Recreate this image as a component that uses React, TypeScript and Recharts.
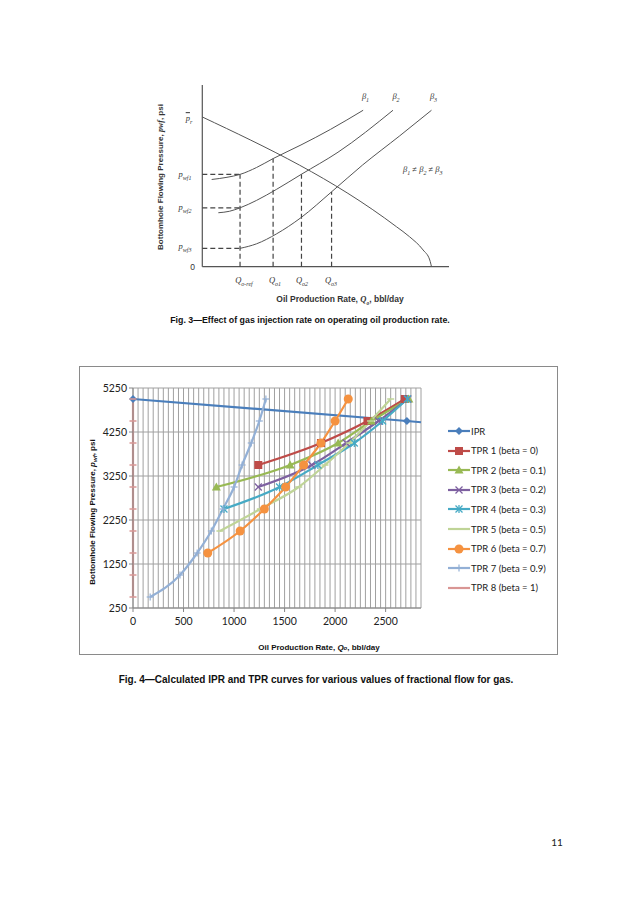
import { LineChart, Line, XAxis, YAxis, CartesianGrid, ReferenceLine } from 'recharts';

// ---- Fig. 4 data ----
const X_TICKS = [0, 500, 1000, 1500, 2000, 2500];
const Y_TICKS = [250, 1250, 2250, 3250, 4250, 5250];

const IPR_Q = [0, 2710, 2850];
const IPR_P = [5000, 4500, 4472];

const TPR1_Q = [1240, 1860, 2320, 2690];
const TPR1_P = [3500, 4000, 4500, 5000];

const TPR2_Q = [825, 1555, 2030, 2360, 2730];
const TPR2_P = [3000, 3500, 4000, 4500, 5000];

const TPR3_Q = [1240, 1770, 2110, 2430, 2720];
const TPR3_P = [3000, 3500, 4000, 4500, 5000];

const TPR4_Q = [900, 1450, 1830, 2190, 2470, 2715];
const TPR4_P = [2500, 3000, 3500, 4000, 4500, 5000];

const TPR5_Q = [860, 1260, 1640, 1900, 2140, 2350, 2550];
const TPR5_P = [2000, 2500, 3000, 3500, 4000, 4500, 5000];

const TPR6_Q = [740, 1060, 1300, 1510, 1690, 1860, 2000, 2130];
const TPR6_P = [1500, 2000, 2500, 3000, 3500, 4000, 4500, 5000];

const TPR7_Q = [170, 465, 635, 775, 890, 1000, 1080, 1170, 1250, 1315];
const TPR7_P = [500, 1000, 1500, 2000, 2500, 3000, 3500, 4000, 4500, 5000];

const TPR8_Q = [0, 0, 0, 0, 0, 0, 0, 0, 0, 0];
const TPR8_P = [500, 1000, 1500, 2000, 2500, 3000, 3500, 4000, 4500, 5000];

// ---- Fig. 3 schematic curves (x, y in 0..100 units) ----
const F3_IPR_U = [0, 78.7, 84, 89.5, 92.2, 92.9];
const F3_IPR_V = [82.4, 22, 16.5, 9.2, 3.7, 0];
const F3_B1_U = [3.8, 10, 15.3, 22, 28.7, 40, 52, 65.2];
const F3_B1_V = [48, 49.2, 50.8, 54.6, 59.5, 67, 75.6, 86.1];
const F3_B2_U = [6.5, 11, 15.3, 22, 30, 40.2, 55, 77.3];
const F3_B2_V = [29.7, 30.5, 32.4, 36.5, 42.5, 50.9, 63, 86.1];
const F3_B3_U = [15.3, 22, 30, 40, 52.4, 65, 80, 92.9];
const F3_B3_V = [10.1, 12.6, 18, 27, 41.2, 56, 72, 86.1];
const F3_PWF = [50.8, 32.4, 10.1];
const F3_QREF = 15.3;
const F3_QOP_U = [28.7, 40.2, 52.4];
const F3_QOP_V = [59.5, 50.9, 41.2];

const toPts = (q: number[], p: number[]) => q.map((x, i) => ({ q: x, p: p[i] }));

type Marker = 'diamond' | 'square' | 'triangle' | 'x' | 'star' | 'dash' | 'circle' | 'plus';

const SERIES = [
  { name: 'IPR', q: IPR_Q, p: IPR_P, color: '#4A7EBB', marker: 'diamond' as Marker, curve: 'linear', marked: 2 },
  { name: 'TPR 1 (beta = 0)', q: TPR1_Q, p: TPR1_P, color: '#BE4B48', marker: 'square' as Marker, curve: 'monotone', marked: 99 },
  { name: 'TPR 2 (beta = 0.1)', q: TPR2_Q, p: TPR2_P, color: '#98B954', marker: 'triangle' as Marker, curve: 'monotone', marked: 99 },
  { name: 'TPR 3 (beta = 0.2)', q: TPR3_Q, p: TPR3_P, color: '#7D60A0', marker: 'x' as Marker, curve: 'monotone', marked: 99 },
  { name: 'TPR 4 (beta = 0.3)', q: TPR4_Q, p: TPR4_P, color: '#46AAC5', marker: 'star' as Marker, curve: 'monotone', marked: 99 },
  { name: 'TPR 5 (beta = 0.5)', q: TPR5_Q, p: TPR5_P, color: '#BFD497', marker: 'dash' as Marker, curve: 'monotone', marked: 99 },
  { name: 'TPR 6 (beta = 0.7)', q: TPR6_Q, p: TPR6_P, color: '#F59240', marker: 'circle' as Marker, curve: 'monotone', marked: 99 },
  { name: 'TPR 7 (beta = 0.9)', q: TPR7_Q, p: TPR7_P, color: '#93B0D6', marker: 'plus' as Marker, curve: 'monotone', marked: 99 },
  { name: 'TPR 8 (beta = 1)', q: TPR8_Q, p: TPR8_P, color: '#D99694', marker: 'dash' as Marker, curve: 'linear', marked: 99 },
];

function markerShape(m: Marker, cx: number, cy: number, color: string, key?: string) {
  switch (m) {
    case 'diamond':
      return <polygon key={key} points={`${cx},${cy - 4} ${cx + 4},${cy} ${cx},${cy + 4} ${cx - 4},${cy}`} fill={color} />;
    case 'square':
      return <rect key={key} x={cx - 4} y={cy - 4} width={8} height={8} fill={color} />;
    case 'triangle':
      return <polygon key={key} points={`${cx},${cy - 4.5} ${cx + 4.5},${cy + 3.5} ${cx - 4.5},${cy + 3.5}`} fill={color} />;
    case 'x':
      return (
        <g key={key} stroke={color} strokeWidth={1.3}>
          <line x1={cx - 3.5} y1={cy - 3.5} x2={cx + 3.5} y2={cy + 3.5} />
          <line x1={cx - 3.5} y1={cy + 3.5} x2={cx + 3.5} y2={cy - 3.5} />
        </g>
      );
    case 'star':
      return (
        <g key={key} stroke={color} strokeWidth={1.3}>
          <line x1={cx - 3.5} y1={cy - 3.5} x2={cx + 3.5} y2={cy + 3.5} />
          <line x1={cx - 3.5} y1={cy + 3.5} x2={cx + 3.5} y2={cy - 3.5} />
          <line x1={cx} y1={cy - 4} x2={cx} y2={cy + 4} />
        </g>
      );
    case 'dash':
      return <line key={key} x1={cx - 3.5} y1={cy} x2={cx + 3.5} y2={cy} stroke={color} strokeWidth={1.5} />;
    case 'circle':
      return <circle key={key} cx={cx} cy={cy} r={4.5} fill={color} />;
    case 'plus':
      return (
        <g key={key} stroke={color} strokeWidth={1.2}>
          <line x1={cx - 3.5} y1={cy} x2={cx + 3.5} y2={cy} />
          <line x1={cx} y1={cy - 3.5} x2={cx} y2={cy + 3.5} />
        </g>
      );
  }
}

const makeDot = (m: Marker, color: string, marked: number) => (props: any) => {
  const { cx, cy, index } = props;
  if (index >= marked || cx == null) return <g key={`d-${index}`} />;
  return markerShape(m, cx, cy, color, `d-${index}`);
};

const FONT = 'Lato, "Liberation Sans", sans-serif';

function Fig4() {
  return (
    <div style={{ position: 'absolute', left: 79, top: 366, width: 479, height: 289, border: '1px solid #8a8a8a', boxSizing: 'border-box' }}>
      <LineChart width={477} height={287} margin={{ top: 21, right: 136, bottom: 16, left: 13 }}>
        <CartesianGrid
          stroke="#a0a0a0"
          verticalCoordinatesGenerator={({ offset }: any) =>
            Array.from({ length: 58 }, (_, i) => offset.left + (i * offset.width) / 57)
          }
        />
        <XAxis
          type="number"
          dataKey="q"
          domain={[0, 2850]}
          ticks={X_TICKS}
          interval={0}
          stroke="#868686"
          tickSize={4}
          tickMargin={6}
          height={30}
          tick={{ fontSize: 10.5, fill: '#222', fontFamily: FONT }}
        />
        <YAxis
          type="number"
          dataKey="p"
          domain={[250, 5250]}
          ticks={Y_TICKS}
          interval={0}
          stroke="#868686"
          tickSize={4}
          tickMargin={2}
          width={40}
          tick={{ fontSize: 10.5, fill: '#222', fontFamily: FONT }}
        />
        {SERIES.map((s) => (
          <Line
            key={s.name}
            data={toPts(s.q, s.p)}
            dataKey="p"
            name={s.name}
            type={s.curve as any}
            stroke={s.color}
            strokeWidth={2.2}
            dot={makeDot(s.marker, s.color, s.marked)}
            activeDot={false}
            isAnimationActive={false}
          />
        ))}
      </LineChart>
      <div
        style={{
          position: 'absolute', left: 13, top: 145, transform: 'translate(-50%, -50%) rotate(-90deg)',
          whiteSpace: 'nowrap', fontFamily: '"Liberation Sans", Arial, sans-serif', fontSize: 8, fontWeight: 'bold', color: '#111',
        }}
      >
        Bottomhole Flowing Pressure, <i>p<sub style={{ fontSize: 6 }}>wf</sub></i>, psi
      </div>
      <div
        style={{
          position: 'absolute', left: 239, top: 280, transform: 'translate(-50%, -50%)',
          whiteSpace: 'nowrap', fontFamily: '"Liberation Sans", Arial, sans-serif', fontSize: 8, fontWeight: 'bold', color: '#111',
        }}
      >
        Oil Production Rate, <i>Q<span style={{ fontSize: 6 }}>o</span></i>, bbl/day
      </div>
      <div style={{ position: 'absolute', left: 367, top: 57 }}>
        {SERIES.map((s, i) => (
          <div key={s.name} style={{ position: 'absolute', left: 0, top: i * 19.6, height: 14, display: 'flex', alignItems: 'center', whiteSpace: 'nowrap' }}>
            <svg width={24} height={14} style={{ display: 'block' }}>
              <line x1={1} y1={7} x2={23} y2={7} stroke={s.color} strokeWidth={2.2} />
              {s.marker !== 'dash' && markerShape(s.marker, 12, 7, s.color)}
            </svg>
            <span style={{ fontFamily: FONT, fontSize: 9.5, color: '#222', marginLeft: 0 }}>{s.name}</span>
          </div>
        ))}
      </div>
    </div>
  );
}

const f3 = (u: number[], v: number[]) => u.map((x, i) => ({ u: x, v: v[i] }));

const SERIF = '"Liberation Serif", "DejaVu Serif", serif';

function Fig3() {
  const lbl = (left: number, top: number, content: any, extra: any = {}) => (
    <div style={{ position: 'absolute', left, top, transform: 'translate(-50%, -50%)', whiteSpace: 'nowrap', fontFamily: SERIF, fontStyle: 'italic', fontSize: 8.5, color: '#333', ...extra }}>
      {content}
    </div>
  );
  const dash = { stroke: '#444', strokeWidth: 1.2, strokeDasharray: '5 3' };
  const sub = { fontSize: 6 };
  return (
    <>
      <div style={{ position: 'absolute', left: 150, top: 70 }}>
        <LineChart width={310} height={210} margin={{ top: 15, right: 11, bottom: 13.3, left: 52.3 }}>
          <XAxis type="number" dataKey="u" domain={[0, 100]} hide />
          <YAxis type="number" dataKey="v" domain={[0, 100]} hide />
          <ReferenceLine segment={[{ x: 0, y: 0 }, { x: 0, y: 100 }]} stroke="#555" strokeWidth={1.2} />
          <ReferenceLine segment={[{ x: 0, y: 0 }, { x: 100, y: 0 }]} stroke="#555" strokeWidth={1.2} />
          {F3_PWF.map((v) => (
            <ReferenceLine key={`h${v}`} segment={[{ x: 0, y: v }, { x: F3_QREF, y: v }]} {...dash} />
          ))}
          <ReferenceLine segment={[{ x: F3_QREF, y: 0 }, { x: F3_QREF, y: F3_PWF[0] }]} {...dash} />
          {F3_QOP_U.map((u, i) => (
            <ReferenceLine key={`v${u}`} segment={[{ x: u, y: 0 }, { x: u, y: F3_QOP_V[i] }]} {...dash} />
          ))}
          {[f3(F3_IPR_U, F3_IPR_V), f3(F3_B1_U, F3_B1_V), f3(F3_B2_U, F3_B2_V), f3(F3_B3_U, F3_B3_V)].map((d, i) => (
            <Line key={i} data={d} dataKey="v" type="monotone" stroke="#555" strokeWidth={1} dot={false} activeDot={false} isAnimationActive={false} />
          ))}
        </LineChart>
      </div>
      {lbl(189, 119, <><span style={{ textDecoration: 'overline' }}>p</span><sub style={sub}>r</sub></>)}
      {lbl(185, 174.5, <>p<sub style={sub}>wf1</sub></>)}
      {lbl(185, 208, <>p<sub style={sub}>wf2</sub></>)}
      {lbl(185, 246.5, <>p<sub style={sub}>wf3</sub></>)}
      {lbl(192.5, 266.5, '0', { fontStyle: 'normal', fontFamily: '"Liberation Sans", sans-serif', fontSize: 8.5 })}
      {lbl(244, 281, <>Q<sub style={sub}>o-ref</sub></>)}
      {lbl(275, 281, <>Q<sub style={sub}>o1</sub></>)}
      {lbl(302, 281, <>Q<sub style={sub}>o2</sub></>)}
      {lbl(331, 281, <>Q<sub style={sub}>o3</sub></>)}
      {lbl(365.5, 97, <>β<sub style={sub}>1</sub></>)}
      {lbl(396, 97, <>β<sub style={sub}>2</sub></>)}
      {lbl(433.5, 97, <>β<sub style={sub}>3</sub></>)}
      <div style={{ position: 'absolute', left: 403, top: 164, whiteSpace: 'nowrap', fontFamily: SERIF, fontStyle: 'italic', fontSize: 8.5, color: '#333' }}>
        β<sub style={sub}>1</sub> ≠ β<sub style={sub}>2</sub> ≠ β<sub style={sub}>3</sub>
      </div>
      <div
        style={{
          position: 'absolute', left: 160, top: 177, transform: 'translate(-50%, -50%) rotate(-90deg)',
          whiteSpace: 'nowrap', fontFamily: '"Liberation Sans", Arial, sans-serif', fontSize: 8, fontWeight: 'bold', color: '#333',
        }}
      >
        Bottomhole Flowing Pressure, <i style={{ fontFamily: SERIF }}>pwf</i>, psi
      </div>
      <div
        style={{
          position: 'absolute', left: 340, top: 300, transform: 'translate(-50%, -50%)',
          whiteSpace: 'nowrap', fontFamily: '"Liberation Sans", Arial, sans-serif', fontSize: 8.5, fontWeight: 'bold', color: '#333',
        }}
      >
        Oil Production Rate, <i style={{ fontFamily: SERIF }}>Q<sub style={{ fontSize: 5.5 }}>o</sub></i>, bbl/day
      </div>
    </>
  );
}

export default function App() {
  return (
    <div style={{ position: 'relative', width: 638, height: 903, background: '#fff', overflow: 'hidden' }}>
      <style>{'body{margin:0}'}</style>
      <Fig3 />
      <div
        style={{
          position: 'absolute', left: 310, top: 320, transform: 'translate(-50%, -50%)', whiteSpace: 'nowrap',
          fontFamily: '"Liberation Sans", Arial, sans-serif', fontSize: 8.8, fontWeight: 'bold', color: '#111',
        }}
      >
        Fig. 3—Effect of gas injection rate on operating oil production rate.
      </div>
      <Fig4 />
      <div
        style={{
          position: 'absolute', left: 316, top: 679, transform: 'translate(-50%, -50%)', whiteSpace: 'nowrap',
          fontFamily: '"Liberation Sans", Arial, sans-serif', fontSize: 10, fontWeight: 'bold', color: '#111',
        }}
      >
        Fig. 4—Calculated IPR and TPR curves for various values of fractional flow for gas.
      </div>
      <div style={{ position: 'absolute', left: 557, top: 842, transform: 'translate(-50%, -50%)', fontFamily: FONT, fontSize: 10, color: '#222' }}>
        11
      </div>
    </div>
  );
}
